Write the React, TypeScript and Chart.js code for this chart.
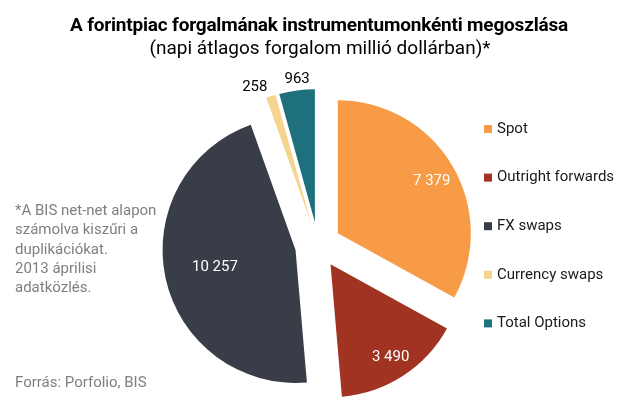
import React, { useEffect, useRef } from 'react';
import { Chart, registerables } from 'chart.js';

Chart.register(...registerables);

// ---- data ----
const categories = ['Spot', 'Outright forwards', 'FX swaps', 'Currency swaps', 'Total Options'];
const values = [7379, 3490, 10257, 258, 963];
const colors = ['#F79B46', '#A13322', '#383D48', '#F4D48E', '#1F707D'];
const titleText = 'A forintpiac forgalmának instrumentumonkénti megoszlása';
const subtitleText = '(napi átlagos forgalom millió dollárban)*';
const noteLines = ['*A BIS net-net alapon', 'számolva kiszűri a', 'duplikációkat.', '2013 áprilisi', 'adatközlés.'];
const sourceText = 'Forrás: Porfolio, BIS';

// ---- style ----
const FONT = 'Roboto, "Noto Sans", sans-serif';
const EXPLODE = 23;
const LABEL_STYLE = [
  { inside: true, f: 0.82, dx: 0, dy: 3 },
  { inside: true, f: 0.83, dx: 0, dy: 0 },
  { inside: true, f: 0.62, dx: 0, dy: 0 },
  { inside: false, f: 1.1, dx: -12, dy: 4 },
  { inside: false, f: 1.1, dx: 2, dy: 2 },
];

const fmt = (n: number) => String(n).replace(/\B(?=(\d{3})+(?!\d))/g, ' ');

const explodePlugin = {
  id: 'explodeArcs',
  beforeDatasetDraw(chart: any, args: any) {
    const ctx = chart.ctx;
    args.meta.data.forEach((arc: any) => {
      const mid = (arc.startAngle + arc.endAngle) / 2;
      ctx.save();
      ctx.translate(Math.cos(mid) * EXPLODE, Math.sin(mid) * EXPLODE);
      arc.draw(ctx);
      ctx.restore();
    });
    return false;
  },
};

const labelPlugin = {
  id: 'valueLabels',
  afterDatasetsDraw(chart: any) {
    const ctx = chart.ctx;
    const meta = chart.getDatasetMeta(0);
    ctx.save();
    ctx.font = `15px ${FONT}`;
    ctx.textAlign = 'center';
    ctx.textBaseline = 'middle';
    meta.data.forEach((arc: any, i: number) => {
      const st = LABEL_STYLE[i];
      const mid = (arc.startAngle + arc.endAngle) / 2;
      const d = EXPLODE + arc.outerRadius * st.f;
      const x = arc.x + Math.cos(mid) * d + st.dx;
      const y = arc.y + Math.sin(mid) * d + st.dy;
      ctx.fillStyle = st.inside ? '#ffffff' : '#000000';
      ctx.fillText(fmt(values[i]), x, y);
    });
    ctx.restore();
  },
};

const textPlugin = {
  id: 'texts',
  afterDraw(chart: any) {
    const ctx = chart.ctx;
    ctx.save();
    ctx.textBaseline = 'alphabetic';
    ctx.textAlign = 'center';
    ctx.fillStyle = '#000';
    ctx.font = `bold 19px ${FONT}`;
    (ctx as any).letterSpacing = '-0.2px';
    ctx.fillText(titleText, 319, 31);
    ctx.font = `19px ${FONT}`;
    (ctx as any).letterSpacing = '0px';
    ctx.fillText(subtitleText, 320, 54);

    // notes
    ctx.textAlign = 'left';
    ctx.fillStyle = '#7f7f7f';
    ctx.font = `15px ${FONT}`;
    noteLines.forEach((l, i) => ctx.fillText(l, 15, 215 + i * 19.3));
    ctx.fillText(sourceText, 15, 387);

    // legend
    ctx.textBaseline = 'middle';
    categories.forEach((c, i) => {
      const y = 129 + i * 48.6;
      ctx.fillStyle = colors[i];
      ctx.fillRect(484, y - 4, 8, 8);
      ctx.fillStyle = '#1a1a1a';
      ctx.font = `15px ${FONT}`;
      ctx.fillText(c, 497, y);
    });
    ctx.restore();
  },
};

export default function App() {
  const ref = useRef<HTMLCanvasElement | null>(null);
  useEffect(() => {
    if (!ref.current) return;
    const chart = new Chart(ref.current, {
      type: 'pie',
      data: {
        labels: categories,
        datasets: [
          {
            data: values,
            backgroundColor: colors,
            borderWidth: 0,
          },
        ],
      },
      options: {
        responsive: false,
        animation: false,
        devicePixelRatio: 1,
        layout: { padding: { top: 112, bottom: 25, left: 185, right: 186 } },
        plugins: {
          legend: { display: false },
          tooltip: { enabled: false },
          title: { display: false },
        },
      },
      plugins: [explodePlugin, labelPlugin, textPlugin],
    });
    return () => chart.destroy();
  }, []);
  return (
    <div style={{ position: 'absolute', left: 0, top: 0, width: 637, height: 403, background: '#fff' }}>
      <canvas ref={ref} width={637} height={403} style={{ width: 637, height: 403 }} />
    </div>
  );
}
